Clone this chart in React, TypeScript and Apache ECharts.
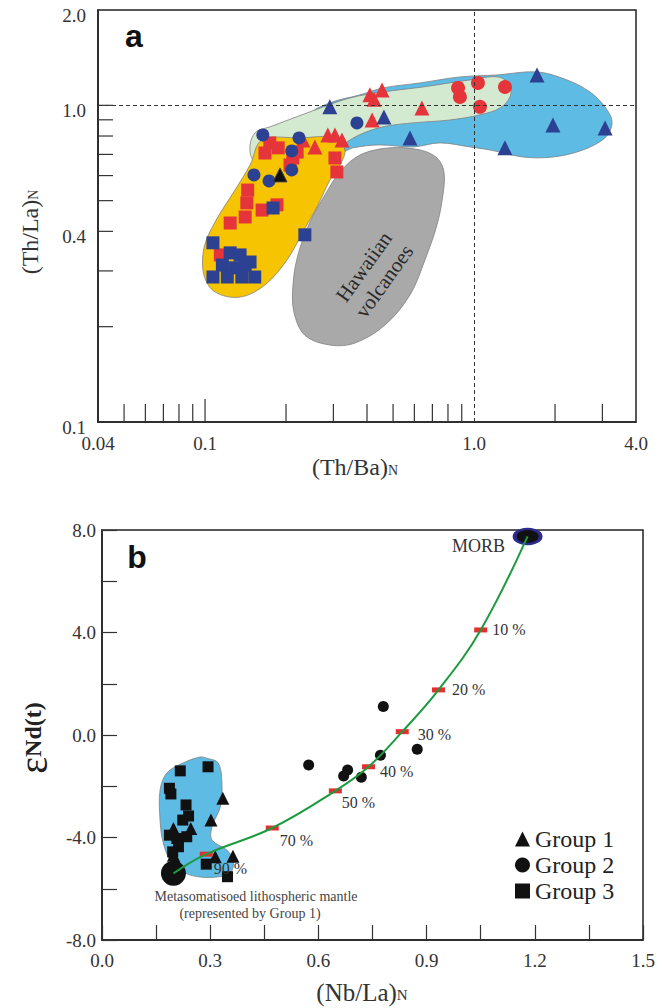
import React, { useEffect, useRef } from 'react';
import * as echarts from 'echarts';

const SERIF = '"Liberation Serif", "Times New Roman", Times, serif';
const SANS = '"Liberation Sans", Arial, Helvetica, sans-serif';

// ---------------- Panel a : (Th/Ba)N vs (Th/La)N, log-log ----------------
const A_XMIN = 0.04;
const A_XMAX = 4;
const A_YMIN = 0.1;
const A_YMAX = 2;
const aXTicks = [0.05, 0.06, 0.07, 0.08, 0.09, 0.1, 0.2, 0.3, 0.4, 0.5, 0.6, 0.7, 0.8, 0.9, 2, 3];
const aYTicks = [0.2, 0.3, 0.4, 0.5, 0.6, 0.7, 0.8, 0.9, 1.0];
const aXLabels = ['0.04', '0.1', '1.0', '4.0'];
const aYLabels = ['0.1', '0.4', '1.0', '2.0'];

const aRedTriangles = [
  [0.41, 1.079], [0.455, 1.118], [0.418, 0.899], [0.64, 0.981], [0.231, 0.777],
  [0.256, 0.739], [0.286, 0.806], [0.304, 0.806], [0.323, 0.777], [0.425, 1.045],
];
const aRedCircles = [[0.872, 1.135], [0.886, 1.063], [1.034, 1.177], [1.303, 1.143], [1.052, 0.989]];
const aRedSquares = [
  [0.174, 0.761], [0.167, 0.707], [0.187, 0.734], [0.212, 0.682], [0.22, 0.712],
  [0.207, 0.648], [0.304, 0.682], [0.309, 0.616], [0.144, 0.54], [0.143, 0.492],
  [0.141, 0.444], [0.124, 0.425], [0.163, 0.467], [0.185, 0.485], [0.114, 0.337],
];
const aBlueSquares = [
  [0.179, 0.474], [0.235, 0.39], [0.107, 0.368], [0.124, 0.342], [0.135, 0.337],
  [0.147, 0.32], [0.116, 0.313], [0.129, 0.307], [0.141, 0.313], [0.107, 0.287],
  [0.121, 0.287], [0.137, 0.287], [0.153, 0.287],
];
const aBlueCircles = [
  [0.164, 0.806], [0.2235, 0.789], [0.21, 0.718], [0.152, 0.603], [0.173, 0.577],
  [0.21, 0.625], [0.367, 0.88],
];
const aBlueTriangles = [
  [0.291, 0.989], [0.4625, 0.919], [0.578, 0.789], [1.303, 0.734], [1.714, 1.247],
  [1.965, 0.867], [3.07, 0.848],
];
const aBlackTriangle = [[0.19, 0.603]];

// field outlines (data coordinates)
const aBlueField = [
  [0.2455, 0.933], [0.2914, 1.018], [0.377, 1.079], [0.4586, 1.135], [0.63, 1.177],
  [0.886, 1.229], [1.217, 1.247], [1.714, 1.275], [2.215, 1.203], [2.698, 1.102],
  [3.068, 0.988], [3.257, 0.886], [3.094, 0.795], [2.541, 0.723], [1.966, 0.687],
  [1.52, 0.687], [1.146, 0.723], [0.966, 0.739], [0.747, 0.761], [0.593, 0.739],
  [0.447, 0.75], [0.355, 0.734], [0.3174, 0.707], [0.279, 0.723], [0.25, 0.806],
];
const aGreenField = [
  [0.1508, 0.672], [0.147, 0.75], [0.1547, 0.824], [0.1743, 0.855], [0.2393, 0.946],
  [0.3457, 1.055], [0.4586, 1.102], [0.646, 1.143], [0.966, 1.203], [1.227, 1.229],
  [1.36, 1.16], [1.36, 1.063], [1.248, 0.981], [1.052, 0.933], [0.814, 0.899],
  [0.593, 0.88], [0.4586, 0.855], [0.367, 0.8], [0.3174, 0.734], [0.2914, 0.672],
  [0.2254, 0.625], [0.1743, 0.625],
];
const aYellowField = [
  [0.1628, 0.777], [0.2254, 0.789], [0.304, 0.789], [0.331, 0.723], [0.3174, 0.648],
  [0.2914, 0.581], [0.263, 0.4846], [0.231, 0.398], [0.2017, 0.325], [0.167, 0.271],
  [0.1349, 0.248], [0.1089, 0.2574], [0.0991, 0.291], [0.0991, 0.3544], [0.1089, 0.428],
  [0.1292, 0.54], [0.147, 0.648],
];
const aHawaiiField = [
  [0.487, 0.734], [0.63, 0.723], [0.728, 0.682], [0.773, 0.616], [0.766, 0.521],
  [0.728, 0.419], [0.657, 0.325], [0.578, 0.252], [0.467, 0.2025], [0.361, 0.1776],
  [0.2914, 0.175], [0.235, 0.188], [0.214, 0.2225], [0.2123, 0.271], [0.2215, 0.337],
  [0.2455, 0.428], [0.279, 0.521], [0.3174, 0.616], [0.377, 0.697],
];

// ---------------- Panel b : (Nb/La)N vs eNd(t) ----------------
const bGroup1 = [
  [0.335, -2.47], [0.302, -3.32], [0.198, -3.65], [0.246, -3.65], [0.198, -4.69],
  [0.314, -4.75], [0.363, -4.73], [0.207, -4.95],
];
const bGroup2 = [
  [0.78, 1.11], [0.874, -0.56], [0.772, -0.79], [0.573, -1.17], [0.681, -1.37],
  [0.67, -1.6], [0.719, -1.65],
];
const bGroup3 = [
  [0.217, -1.4], [0.294, -1.24], [0.187, -2.08], [0.191, -2.3], [0.233, -2.73],
  [0.24, -3.16], [0.224, -3.32], [0.187, -3.91], [0.2075, -4.04], [0.235, -3.97],
  [0.196, -4.56], [0.212, -4.36], [0.289, -5.04], [0.348, -5.53],
];
const bMixLabels = ['10 %', '20 %', '30 %', '40 %', '50 %', '70 %', '90 %'];
const bMixX = [1.05, 0.933, 0.8325, 0.739, 0.647, 0.472, 0.289];
const bMixY = [4.1, 1.76, 0.13, -1.24, -2.18, -3.63, -4.65];
const bCurve = [
  [0.198, -5.4], [0.289, -4.65], [0.472, -3.63], [0.647, -2.18], [0.739, -1.24],
  [0.8325, 0.13], [0.933, 1.76], [1.05, 4.1], [1.18, 7.75],
];
const bMantle = [[0.198, -5.4]];
const bMorb = [[1.18, 7.75]];
const bField = [
  [0.291, -0.91], [0.322, -1.09], [0.3325, -1.875], [0.328, -2.8], [0.305, -3.58],
  [0.305, -4.1], [0.346, -4.49], [0.364, -4.88], [0.356, -5.39], [0.319, -5.54],
  [0.272, -5.54], [0.2306, -5.39], [0.1936, -5.0], [0.17, -4.22], [0.161, -3.32],
  [0.161, -2.15], [0.18, -1.48], [0.225, -1.09], [0.272, -0.86],
];

const RED = '#e5353a';
const NAVY = '#2d4193';

const mixLabelOffsets = [[0, 0], [2, 0], [4, 3], [0, 5], [-5, 12], [-4, 12], [-4, 14]];

function fieldSeries(pts: number[][], fill: string, xi: number, yi: number) {
  return {
    type: 'custom',
    xAxisIndex: xi,
    yAxisIndex: yi,
    silent: true,
    data: [pts[0]],
    renderItem: (_p: any, api: any) => ({
      type: 'polygon',
      shape: { points: pts.map((p) => api.coord(p)), smooth: 0.35 },
      style: { fill, stroke: '#808080', lineWidth: 0.8 },
    }),
  };
}

function scatterA(name: string, data: number[][], symbol: string, size: number, color: string, extra: any = {}) {
  return {
    type: 'scatter',
    name,
    xAxisIndex: 0,
    yAxisIndex: 0,
    symbol,
    symbolSize: size,
    silent: true,
    itemStyle: { color, opacity: 1 },
    data,
    ...extra,
  };
}

function scatterB(name: string, data: any[], symbol: string, size: any, itemStyle: any, extra: any = {}) {
  return {
    type: 'scatter',
    name,
    xAxisIndex: 1,
    yAxisIndex: 1,
    symbol,
    symbolSize: size,
    silent: true,
    itemStyle: { opacity: 1, ...itemStyle },
    data,
    ...extra,
  };
}

function textStyle(text: string, size: number, align: string, vAlign: string, extra: any = {}) {
  return {
    text,
    fill: '#333',
    fontFamily: SERIF,
    fontSize: size,
    align,
    verticalAlign: vAlign,
    textAlign: align,
    textVerticalAlign: vAlign,
    ...extra,
  };
}

function buildOption(): any {
  const axisLineStyle = { color: '#222', width: 1.5 };
  return {
    animation: false,
    backgroundColor: '#ffffff',
    grid: [
      { left: 98, top: 10, width: 538, height: 412, show: true, borderColor: '#222', borderWidth: 1.5, backgroundColor: 'transparent' },
      { left: 102, top: 530, width: 541, height: 410, show: true, borderColor: '#222', borderWidth: 1.5, backgroundColor: 'transparent' },
    ],
    xAxis: [
      {
        type: 'log', gridIndex: 0, logBase: 10, min: A_XMIN, max: A_XMAX,
        axisLine: { show: true, onZero: false, lineStyle: axisLineStyle },
        axisTick: { show: false }, axisLabel: { show: false }, splitLine: { show: false },
      },
      {
        type: 'value', gridIndex: 1, min: 0, max: 1.5, interval: 0.15,
        axisLine: { show: true, onZero: false, lineStyle: axisLineStyle },
        axisTick: { show: true, inside: true, length: 15, lineStyle: { color: '#333', width: 1.2 } },
        axisLabel: {
          margin: 11, fontFamily: SERIF, fontSize: 19, color: '#333',
          formatter: (v: number) => (Math.round(v * 100) % 30 === 0 ? v.toFixed(1) : ''),
        },
        splitLine: { show: false },
      },
    ],
    yAxis: [
      {
        type: 'log', gridIndex: 0, logBase: 10, min: A_YMIN, max: A_YMAX,
        axisLine: { show: true, onZero: false, lineStyle: axisLineStyle },
        axisTick: { show: false }, axisLabel: { show: false }, splitLine: { show: false },
      },
      {
        type: 'value', gridIndex: 1, min: -8, max: 8, interval: 2,
        axisLine: { show: true, onZero: false, lineStyle: axisLineStyle },
        axisTick: { show: true, inside: true, length: 15, lineStyle: { color: '#333', width: 1.2 } },
        axisLabel: {
          margin: 6, fontFamily: SERIF, fontSize: 19, color: '#333',
          formatter: (v: number) => (Math.round(v) % 4 === 0 ? v.toFixed(1) : ''),
        },
        splitLine: { show: false },
      },
    ],
    legend: {
      data: ['Group 1', 'Group 2', 'Group 3'],
      orient: 'vertical', left: 515, top: 827, padding: 0, itemGap: 2,
      itemWidth: 15, itemHeight: 15, selectedMode: false,
      textStyle: { fontFamily: SERIF, fontSize: 24, color: '#222' },
    },
    graphic: [
      { type: 'text', z: 50, x: 134, y: 36, style: textStyle('a', 32, 'center', 'middle', { fontFamily: SANS, fontWeight: 'bold', fill: '#111' }) },
      { type: 'text', z: 50, x: 137, y: 557, style: textStyle('b', 32, 'center', 'middle', { fontFamily: SANS, fontWeight: 'bold', fill: '#111' }) },
      {
        type: 'text', z: 50, x: 374, y: 274, rotation: 0.95,
        style: textStyle('Hawaiian\nvolcanoes', 21, 'center', 'middle', { lineHeight: 25, fill: '#2a2a2a' }),
      },
      {
        type: 'text', z: 50, x: 355, y: 467,
        style: textStyle('{m|(Th/Ba)}{s|N}', 24, 'center', 'middle', {
          rich: { m: { fontFamily: SERIF, fontSize: 24, fill: '#333' }, s: { fontFamily: SERIF, fontSize: 14, fill: '#333', verticalAlign: 'bottom', padding: [0, 0, 2, 0] } },
        }),
      },
      {
        type: 'text', z: 50, x: 30, y: 232, rotation: Math.PI / 2,
        style: textStyle('{m|(Th/La)}{s|N}', 24, 'center', 'middle', {
          rich: { m: { fontFamily: SERIF, fontSize: 24, fill: '#333' }, s: { fontFamily: SERIF, fontSize: 14, fill: '#333', verticalAlign: 'bottom', padding: [0, 0, 2, 0] } },
        }),
      },
      {
        type: 'text', z: 50, x: 362, y: 992,
        style: textStyle('{m|(Nb/La)}{s|N}', 25, 'center', 'middle', {
          rich: { m: { fontFamily: SERIF, fontSize: 25, fill: '#333' }, s: { fontFamily: SERIF, fontSize: 15, fill: '#333', verticalAlign: 'bottom', padding: [0, 0, 2, 0] } },
        }),
      },
      {
        type: 'text', z: 50, x: 33, y: 738, rotation: Math.PI / 2,
        style: textStyle('{e|ε}{n|Nd(t)}', 24, 'center', 'middle', {
          rich: { e: { fontFamily: SERIF, fontSize: 40, fill: '#222' }, n: { fontFamily: SERIF, fontSize: 24, fontWeight: 'bold', fill: '#222' } },
        }),
      },
      { type: 'text', z: 50, x: 505, y: 546, style: textStyle('MORB', 18, 'right', 'middle') },
      { type: 'text', z: 50, x: 256, y: 896, style: textStyle('Metasomatisoed lithospheric mantle', 14, 'center', 'middle', { fill: '#444' }) },
      { type: 'text', z: 50, x: 250, y: 913, style: textStyle('(represented by Group 1)', 14, 'center', 'middle', { fill: '#444' }) },
    ],
    series: [
      // ---- panel a fields
      fieldSeries(aBlueField, '#5dbbe4', 0, 0),
      fieldSeries(aGreenField, '#d4ead0', 0, 0),
      fieldSeries(aYellowField, '#f6c400', 0, 0),
      fieldSeries(aHawaiiField, '#a9a9a9', 0, 0),
      // ---- panel a ticks and labels
      {
        type: 'custom', xAxisIndex: 0, yAxisIndex: 0, silent: true,
        data: aXTicks.map((v) => [v, A_YMIN]),
        renderItem: (_p: any, api: any) => {
          const v = api.value(0);
          const p = api.coord([v, api.value(1)]);
          const len = Math.abs(v - 0.1) < 1e-9 ? 23 : 18;
          return { type: 'line', shape: { x1: p[0], y1: p[1], x2: p[0], y2: p[1] - len }, style: { stroke: '#333', lineWidth: 1.2 } };
        },
      },
      {
        type: 'custom', xAxisIndex: 0, yAxisIndex: 0, silent: true,
        data: aYTicks.map((v) => [A_XMIN, v]),
        renderItem: (_p: any, api: any) => {
          const p = api.coord([api.value(0), api.value(1)]);
          return { type: 'line', shape: { x1: p[0], y1: p[1], x2: p[0] + 15, y2: p[1] }, style: { stroke: '#333', lineWidth: 1.2 } };
        },
      },
      {
        type: 'custom', xAxisIndex: 0, yAxisIndex: 0, silent: true,
        data: aXLabels.map((s) => [Number(s), A_YMIN]),
        renderItem: (params: any, api: any) => {
          const p = api.coord([api.value(0), api.value(1)]);
          return { type: 'text', x: p[0], y: p[1] + 21, style: textStyle(aXLabels[params.dataIndex], 19, 'center', 'middle') };
        },
      },
      {
        type: 'custom', xAxisIndex: 0, yAxisIndex: 0, silent: true,
        data: aYLabels.map((s) => [A_XMIN, Number(s)]),
        renderItem: (params: any, api: any) => {
          const p = api.coord([api.value(0), api.value(1)]);
          return { type: 'text', x: p[0] - 12, y: p[1] + 5, style: textStyle(aYLabels[params.dataIndex], 19, 'right', 'middle') };
        },
      },
      // ---- panel a points
      scatterA('a-red-squares', aRedSquares, 'rect', 13, RED),
      scatterA('a-blue-squares', aBlueSquares, 'rect', 13, NAVY),
      scatterA('a-red-triangles', aRedTriangles, 'triangle', 15, RED),
      scatterA('a-blue-triangles', aBlueTriangles, 'triangle', 15, NAVY),
      scatterA('a-red-circles', aRedCircles, 'circle', 14, RED, {
        markLine: {
          silent: true, symbol: ['none', 'none'], label: { show: false },
          lineStyle: { type: [4, 3], color: '#333', width: 1 },
          data: [{ xAxis: 1 }, { yAxis: 1 }],
        },
      }),
      scatterA('a-blue-circles', aBlueCircles, 'circle', 13, NAVY),
      scatterA('a-black-triangle', aBlackTriangle, 'triangle', 14, '#111', { itemStyle: { color: '#111', opacity: 1, borderColor: '#444', borderWidth: 1 } }),
      // ---- panel b
      fieldSeries(bField, '#5dbbe4', 1, 1),
      {
        type: 'line', xAxisIndex: 1, yAxisIndex: 1, silent: true, smooth: 0.4,
        showSymbol: false, data: bCurve,
        lineStyle: { color: '#1c9a3e', width: 2 },
      },
      scatterB('Group 3', bGroup3, 'rect', 11, { color: '#111' }),
      scatterB('Group 1', bGroup1, 'triangle', 13, { color: '#111' }),
      scatterB('Group 2', bGroup2, 'circle', 11, { color: '#111' }),
      scatterB('mantle', bMantle, 'circle', 25, { color: '#111' }),
      scatterB('MORB', bMorb, 'circle', [26, 15], { color: '#111', borderColor: '#2b2b8e', borderWidth: 3 }, { clip: false }),
      scatterB(
        'mixing',
        bMixX.map((x, i) => ({ value: [x, bMixY[i]], name: bMixLabels[i], label: { offset: mixLabelOffsets[i] } })),
        'rect', [13, 5], { color: '#e2302e' },
        { label: { show: true, position: 'right', distance: 5, formatter: '{b}', fontFamily: SERIF, fontSize: 16, color: '#333' } },
      ),
    ],
  };
}

export default function App() {
  const ref = useRef<HTMLDivElement>(null);
  useEffect(() => {
    document.body.style.margin = '0';
    const chart = echarts.init(ref.current as HTMLDivElement, null, { renderer: 'svg' });
    chart.setOption(buildOption());
    return () => chart.dispose();
  }, []);
  return <div ref={ref} style={{ width: 664, height: 1008 }} />;
}
